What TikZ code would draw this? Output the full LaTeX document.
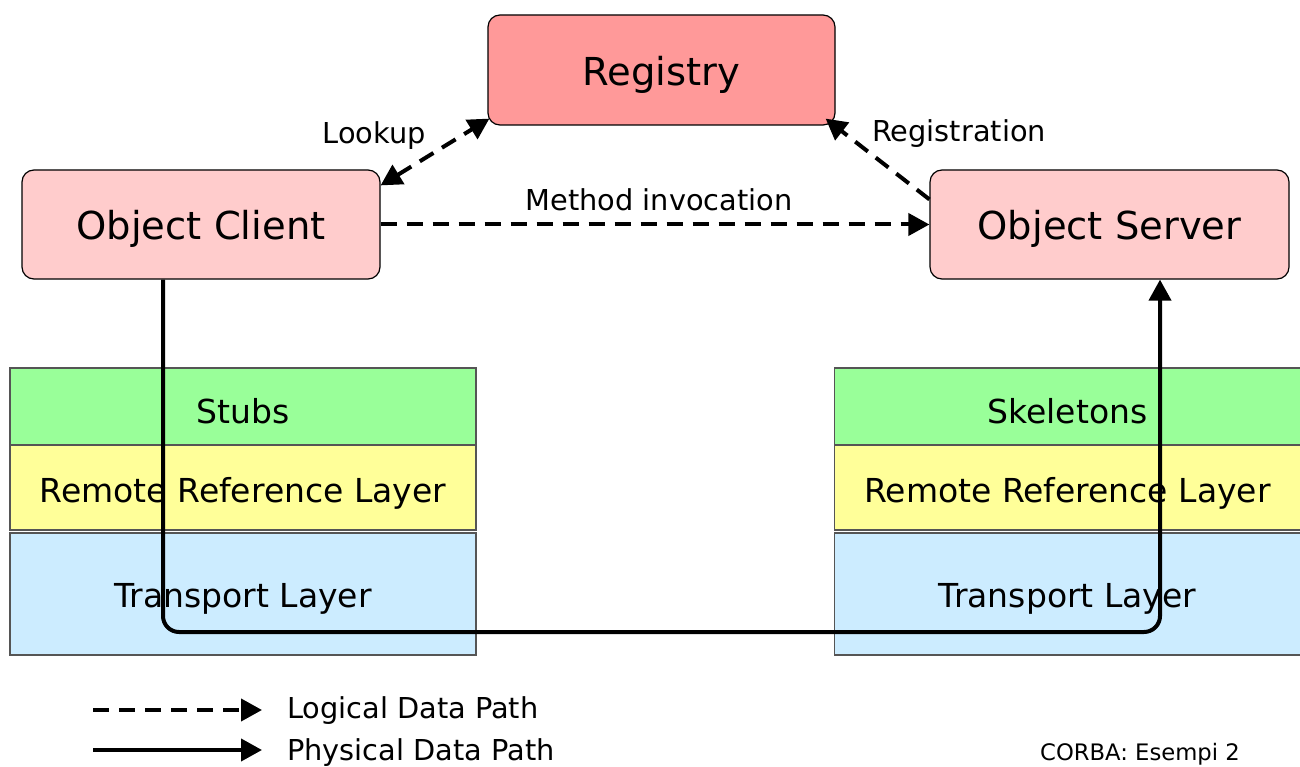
\documentclass[tikz,border=0pt]{standalone}
\usepackage{fontspec}
\setmainfont{DejaVu Sans}
\usetikzlibrary{arrows.meta}
\definecolor{regfill}{HTML}{FF9999}
\definecolor{objfill}{HTML}{FFCCCC}
\definecolor{stubfill}{HTML}{99FF99}
\definecolor{rrlfill}{HTML}{FFFF99}
\definecolor{trfill}{HTML}{CCECFF}
\definecolor{layerline}{HTML}{555555}
\tikzset{
  obj/.style={draw=black, line width=1.2pt, rounded corners=12pt, inner sep=0pt,
    font=\fontsize{38.5}{46}\selectfont},
  layer/.style={draw=layerline, line width=1.3pt, inner sep=0pt, minimum width=466pt,
    font=\fontsize{33}{40}\selectfont},
  lbl/.style={inner sep=0pt, font=\fontsize{28.8}{34}\selectfont},
  tip/.style={-{Triangle[length=21pt,width=22pt]}},
  logic/.style={line width=4pt, dash pattern=on 16pt off 10pt, tip},
  phys/.style={line width=4pt, tip},
}
\begin{document}
\begin{tikzpicture}[x=1pt,y=-1pt]
\useasboundingbox (0,0) rectangle (1300,767);
% boxes
\node[obj, fill=regfill, minimum width=347pt, minimum height=110pt] (registry) at (661.5,70) {};
\node[obj, fill=objfill, minimum width=358pt, minimum height=109pt] (client) at (201,224.5) {};
\node[obj, fill=objfill, minimum width=359pt, minimum height=109pt] (server) at (1109.5,224.5) {};
\node[obj, draw=none, fill=none] (registryT) at (661.5,75) {Registry};
\node[obj, draw=none, fill=none] (clientT) at (201,229) {Object Client};
\node[obj, draw=none, fill=none] (serverT) at (1109.5,229) {Object Server};
% left stack
\node[layer, fill=stubfill, minimum height=77pt] (stubs) at (243,406.5) {};
\node[layer, fill=rrlfill, minimum height=85pt] (rrlL) at (243,487.5) {};
\node[layer, fill=trfill, minimum height=122pt] (trL) at (243,594) {};
% right stack
\node[layer, fill=stubfill, minimum height=77pt] (skel) at (1067.5,406.5) {};
\node[layer, fill=rrlfill, minimum height=85pt] (rrlR) at (1067.5,487.5) {};
\node[layer, fill=trfill, minimum height=122pt] (trR) at (1067.5,594) {};
% physical path
\coordinate (bl) at (163,632);
\coordinate (br) at (1160,632);
\draw[phys, rounded corners=16pt] (client.south -| bl) -- (bl) -- (br) -- (server.south -| br);
% layer labels (on top of path)
\node[layer, draw=none, fill=none] (stubsT) at (243,411) {Stubs};
\node[layer, draw=none, fill=none] (rrlLT) at (243,493) {Remote Reference Layer};
\node[layer, draw=none, fill=none] (trLT) at (243,599) {Transport Layer};
\node[layer, draw=none, fill=none] (skelT) at (1067.5,411) {Skeletons};
\node[layer, draw=none, fill=none] (rrlRT) at (1067.5,493) {Remote Reference Layer};
\node[layer, draw=none, fill=none] (trRT) at (1067.5,599) {Transport Layer};
% logical arrows
\draw[logic, {Triangle[length=21pt,width=22pt]}-{Triangle[length=21pt,width=22pt]}]
  ([yshift=-16pt]client.north east) -- ([shift={(2pt,7pt)}]registry.south west);
\draw[logic] ([yshift=-30pt]server.north west) -- ([shift={(-10pt,7pt)}]registry.south east);
\draw[logic] (client.east) -- (server.west);
\node[lbl] (lookup) at (374,136) {Lookup};
\node[lbl] (registration) at (959,134) {Registration};
\node[lbl] (method) at (659,200) {Method invocation};
% legend
\coordinate (la) at (93,710);
\coordinate (lb) at (262,710);
\coordinate (pa) at (93,750);
\coordinate (pb) at (262,750);
\draw[logic] (la) -- (lb);
\draw[phys] (pa) -- (pb);
\node[lbl, anchor=west] (logT) at (287,711) {Logical Data Path};
\node[lbl, anchor=west] (phyT) at (287,753) {Physical Data Path};
\node[inner sep=0pt, font=\fontsize{22.7}{27}\selectfont] (corba) at (1140,754) {CORBA: Esempi 2};
\end{tikzpicture}
\end{document}
